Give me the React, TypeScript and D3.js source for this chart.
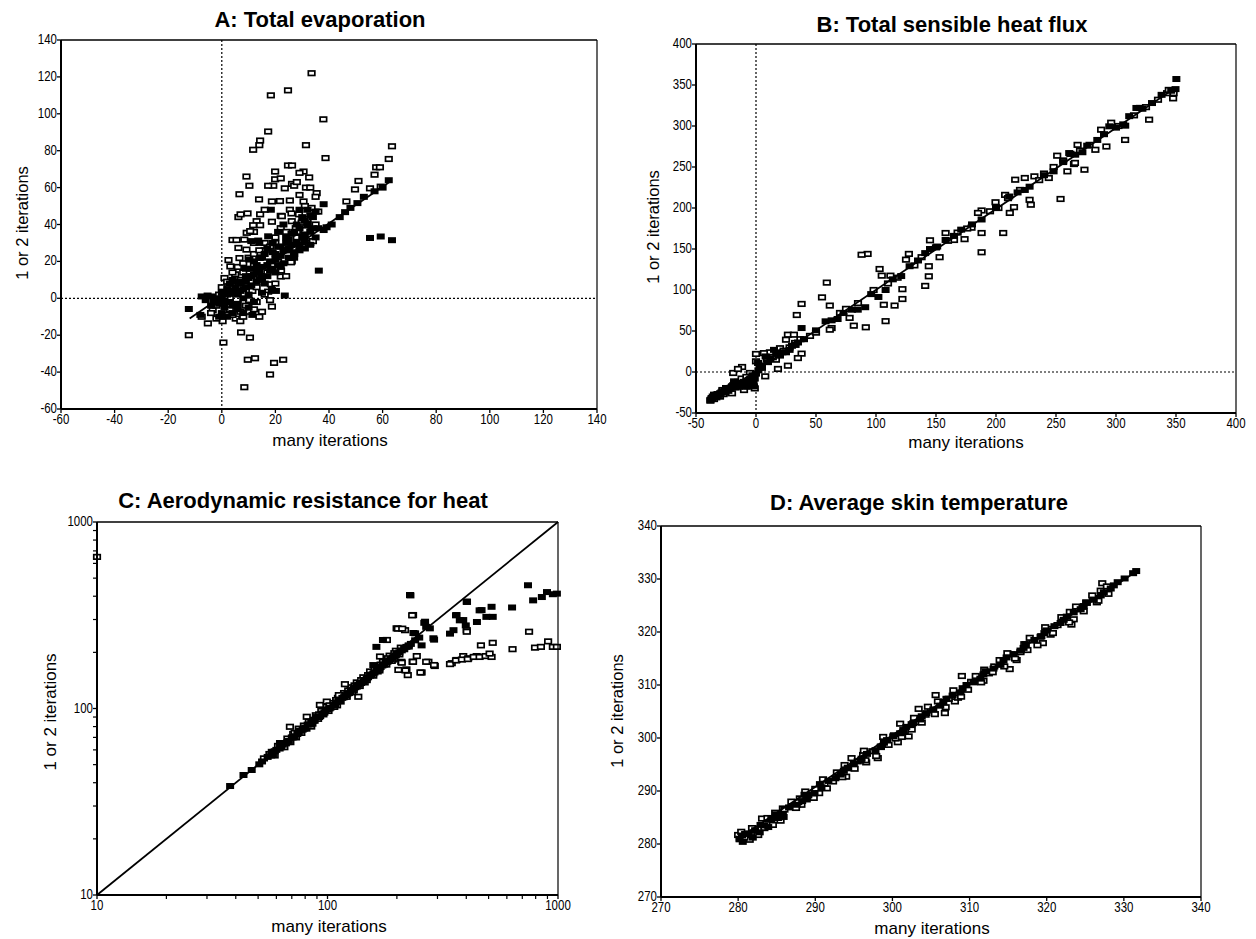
import React from 'react';
import * as d3 from 'd3';

type Pt = [number, number];

// ---------- Panel A: Total evaporation ----------
const aOpen: Pt[] = [
  [33.5,122],[18.3,110],[24.7,112.7],[37.9,97],[17.3,90.4],[14.3,85.5],[14,83],[11.7,80.5],[31.4,83],[63.5,82.4],
  [38.7,76],[62.3,75.5],[24.7,72],[26.2,72],[19.9,68.7],[30.5,68.7],[29,68],[57.6,71],[59,71],[57,67],
  [9.2,66],[32.6,65.5],[19.9,64.5],[22,65],[51,63.6],[26.2,62],[10.3,61],[19.2,61],[17.3,61],[27,61],
  [31.4,60],[33,60],[59.3,60.5],[55.3,59.6],[49.7,59],[23.5,59.6],[35.4,57],[6.6,56.4],[13.9,53.6],[18.7,52.5],
  [21.7,52.7],[25.4,53],[30.5,52.5],[46.5,52.5],[6.2,44],[9.6,46],[7,45.5],[25.4,48],[22,44.7],[28.8,45.5],
  [33.5,49],[13,41.8],[11.7,39.6],[14.3,39.6],[22,38],[9.3,35.5],[12,36],[4,31.6],[5.5,31.6],[6.2,27.3],
  [9.2,26.4],[2.5,20.7],[6.6,21.8],[3.2,17.3],[22.1,15],[22,11.8],[26.1,20],[1,11],[11.4,4],[17.3,3.6],
  [18.3,7.6],[5.5,-3.3],[10.2,-1],[18.7,-4.5],[7,-7.3],[10.2,-7.3],[15,-7.3],[-3.4,-6.4],[-7.5,-10],[-5.2,-13.6],
  [0.3,-12.4],[5.2,-11],[6.9,-12.4],[1.8,-9],[-12.3,-20],[0.6,-24],[7.2,-18.5],[10.5,-21.3],[9.7,-33.3],[12.4,-32.5],
  [19.5,-35],[22.9,-33.3],[18,-41.3],[8.4,-48.2],
  [8.4,31.8],[10.6,36.4],[14.3,45.5],[18.7,41.5],[22.4,44.5],[26.1,41.8],[29.8,41],[27.6,38],[32,40],[30.2,34.5],
  [25.8,19.5],[16,30],[20,33],[24,36],[28,33],[31,37],[35,40],[33,30],[15,12],[12,18],
  [8,14],[4,8],[2,4],[0,6],[3,0],[-1,2],[-2,-4],[13,-2],[16,2],[20,8],
  [24,12],[27,24],[30,28],[34,31],[26,46],[29,56],[35,55],[31,50],[16,26],[14,22],
  [7,10],[5,13],[9,-4],[13,6],[17,14],[21,20],[32,43],[36,47],[28,63],[16,48],[12,30],[3,-6],[1,1],
  [2,9],[4,14],[6,17],[8,19],[10,22],[12,24],[14,26],[18,28],[20,30],[24,26],[28,36],[-4,-8],[-2,-11],
  [4,-9],[8,-10],[12,-6],[14,-10],[18,-1]
];
const aFilled: Pt[] = [
  [-12.3,-5.8],[-7.5,1],[-5.3,1.5],[23.5,1.5],[36.2,15],[55.3,32.7],[59.3,33.5],[63.5,31.5],[62.3,64],[50.6,51.6],
  [46,46.7],[38,51],[39.1,38.5],[18.3,48],[13.6,31.3],[17.3,33.6],[14.3,22],[10.3,21],[18.7,4.5],[20.2,4],
  [0,0],[2,2],[4,3],[5,6],[7,8],[9,9],[10,11],[12,13],[14,14],[15,17],[17,18],[18,20],[20,21],[22,23],[23,26],
  [25,27],[26,29],[28,30],[30,33],[31,34],[33,36],[34,38],[36,38],[33,45],[32,48],[30,44],[28,40],[26,35],[24,30],
  [21,28],[19,25],[16,24],[13,15],[11,12],[8,5],[6,2],[3,-2],[1,-5],[-1,-3],[-2,-1],[0,-8],[2,-10],[4,-4],
  [10,-5],[12,-2],[15,3],[16,8],[20,14],[22,17],[8,0],[-3,-2],[4,10],[27,25],[29,28],[31,31],[35,33],[24,33],
  [32,40],[34,44],[35,47],[29,48],[22,28],[18,15],[14,10],[10,2],[6,-6],[2,5],[3,8],[44,44],[48,49],[53,55],
  [57,58],[60,60],[41,40],[38,37],[-4,-4],[-8,-9],[-1,-10],[9,16],[12,20],[14,30],[11,31],[20,24],[11.4,-9],
  [5,3],[7,4],[9,6],[11,7],[13,9],[15,11],[17,12],[19,16],[21,18],[23,19],[25,22],[27,22],[29,26],[31,27],
  [33,29],[25,32],[27,36],[29,38],[31,42],[23,40],[21,36],[19,30],[17,27],[15,22],[13,18],[11,16],[9,12],
  [7,9],[5,9],[3,4],[1,3],[-1,0],[-4,1],[-6,-1],[0,3],[1,-2],[6,-3],[8,-8],[4,-8]
];
const aLine: Pt[] = [[-12,-11],[63,63.5]];
const aTicks = [-60,-40,-20,0,20,40,60,80,100,120,140];

// ---------- Panel B: Total sensible heat flux ----------
const bOpen: Pt[] = [
  [93,144],[88,143],[59,109],[38,83],[34,69.5],[55,91],[61.5,81],[63,53.6],[61.5,51.6],[81.5,56.5],
  [91.5,54.5],[78,66],[108,62],[106.5,82],[103,125.6],[104.8,117.5],[112,117.5],[115.5,81],[122,89],[122,101],
  [127.4,144],[125,137],[141,105],[144,116.7],[144,129],[145,160.6],[153,140],[158,169.5],[165,161],[173.8,162],
  [179.6,176],[188,146],[188,169.5],[188,197],[185,194],[206,169.5],[199.6,207],[207.6,216],[211.5,194],[215,201],
  [216,234.5],[228,210],[229,204],[224,236.6],[232,238.6],[244,236.6],[253.8,211],[259.5,244.7],[265,253.6],[273.7,246.7],
  [282.8,271],[292,275],[287.6,295.5],[307.6,283],[327.6,307.7],[347.6,333.7],[342.6,340],[251,263.8],[268,277],[265.8,255],
  [296,304],[0,22],[0,13],[-11.6,6.1],[-19,-1.2],[7.7,-5.3],[18.3,3.7],[26.6,7.7],[25,39.4],[26.6,45.5],
  [31.6,45.5],[38,22.4],[34.9,17],[20,29],[11.6,24],[32.6,35.4],[16.6,15],[6.6,23],[-5,-1.2],[-15,3.7],
  [-38,-35],[-37,-32],[-32,-27],[-28,-22],[-25,-25],[-20,-18],[-15,-12],[-12,-8],[-8,-6],[-5,-10],
  [-3,-14],[-1,-20],[-10,-22],[-20,-26],[-30,-30],
  [45,44],[50,48],[70,72],[75,77],[85,84],[98,100],[110,108],[118,115],[132,130],[138,140],
  [150,152],[160,160],[168,170],[176,175],[195,196],[202,200],[210,212],[220,222],[236,234],[240,242],
  [248,250],[256,258],[262,266],[270,270],[278,277],[302,300],[315,313],[320,322],[325,323],[335,332],[344,344],[348,340],
  [-36,-30],[-33,-28],[-27,-27],[-23,-20],[-18,-14],[-14,-18],[-10,-15],[-6,-14],[-2,-6],[-35,-33],
  [3,6],[9,15],[14,18],[23,26],[28,30],[37,40]
];
const bFilled: Pt[] = [
  [350.3,357.3],[349.6,345],[346,343],[307.7,300.4],[311,312],[317,322],[294.4,299.6],[284.4,283],[276,276],[261,267],
  [248,244.7],[228,226],[211,214],[188,186],[171,173.6],[158,161],[151,153],[141,145],[128,129],[121,117],
  [108,100],[102,91.5],[91,79],[84.8,76],[80,76],[68,64.6],[58,61.8],[50,50.8],[38,53.6],[28,27],
  [15,27],[8,19],[1.7,11],[-5,-9.3],[-15,-13.4],[-25,-19.5],[-35,-27.6],[-36.6,-31.7],[-28,-23.6],[-20,-17.5],
  [-11.6,-15.4],[-6.6,-17.5],[-1.7,-17.5],[-18.3,-11.4],[20,20],[25,24],[33,33],[40,40],[63,63],[73,72],
  [96,95],[114,113],[135,136],[145,150],[165,166],[180,180],[200,201],[218,219],[224,222],[240,240],
  [256,256],[266,265],[272,268],[290,290],[300,298],[306,302],[322,321],[330,328],[338,338],[-30,-26],
  [-33,-31],[-22,-20],[-10,-12],[-3,-10],[0,-2],[5,5],[10,12],[30,32],[35,36],[-38,-34],
  [-37,-33],[-34,-30],[-31,-28],[-29,-25],[-26,-22],[-24,-21],[-21,-19],[-19,-16],[-16,-15],[-14,-13],
  [-12,-14],[-9,-15],[-7,-13],[-4,-12],[-2,-14],[-1,-8],[-26,-25],[-23,-23],[-17,-19],[-8,-18],
  [-13,-17],[2,2],[4,8],[12,16],[17,22],[22,24],[-3,-4]
];
const bLine: Pt[] = [[-38,-36],[348,345]];
const bTicks = [-50,0,50,100,150,200,250,300,350,400];

// ---------- Panel C: Aerodynamic resistance for heat ----------
const cOpen: Pt[] = [
  [10,650],[56,57],[59,56],[61,63],[65,62],[67,69],[69,66],[71,73],[73,70],[75,78],[77,74],[79,81],[81,78],
  [84,87],[86,83],[89,92],[91,88],[94,97],[96,93],[99,102],[101,97],[104,107],[107,102],[111,114],[114,109],
  [118,121],[121,116],[126,130],[130,125],[134,138],[138,132],[143,147],[148,142],[153,158],[158,150],[163,168],
  [168,160],[174,178],[180,172],[186,192],[192,183],[198,204],[205,195],[215,208],[225,215],
  [68.7,79.8],[81.3,90.3],[92.7,104.5],[99.3,108.9],[119,135],[136,115.6],[121,115.6],[169,190],[181,233],[199.5,269],
  [217,263],[235,317],[209,178],[220,162],[223,151],[203,161],[234,178],[244,191],[256,156],[274,178],
  [292,169],[346,175],[363,182],[388,191],[408,186],[444,191],[402,263],[402,374],
  [233,316],[402,258],[210,176],[218,160],[235,178],[268,178],[253,156],[290,171],[340,173],[361,181],
  [383,183],[406,184],[431,189],[457,189],[485,191],[515,189],[505,197],[463,218],[521,225],[635,208],
  [749,258],[795,212],[843,214],[906,229],[950,214],[989,214],[195,185],[202,268],[211,268],
  [53,54],[63,65],[72,74],[83,85],[92,93],[102,104],[109,111],[116,117],[123,125],[131,133],[140,142],
  [150,151],[160,162],[170,172],[183,186],[195,198],[208,212],[85,80],[110,104],[128,122],[145,138],
  [165,158],[190,180],[112,118]
];
const cFilled: Pt[] = [
  [37.8,38.4],[43.2,44],[46.9,46.8],[50.6,50.2],[57.3,58.6],[62.2,65.3],
  [55,55],[58,57],[60,60],[62,61],[64,64],[66,65],[68,67],[70,70],[72,71],[74,73],[76,76],[78,77],[80,79],
  [82,82],[85,84],[88,86],[90,90],[93,91],[95,94],[98,97],[100,99],[103,101],[106,104],[110,108],[113,111],
  [116,114],[120,118],[124,121],[128,126],[132,130],[136,134],[140,137],[145,142],[150,147],[155,152],[160,156],
  [165,162],[170,167],[176,172],[182,178],[188,184],[195,190],[200,196],[210,205],[220,214],[230,222],[240,232],[250,240],
  [158,171],[174,233],[163,214],[228,406],[240,253],[265,292],[278,269],[288,238],[352,263],[388,298],[363,317],
  [403,373],[515,351],[466,337],[632,348],[741,458],[780,380],[851,396],[896,421],[950,410],[989,413],
  [361,316],[375,297],[398,279],[340,252],[445,291],[489,310],[521,310],[457,336],[263,288],[268,274],
  [290,234],[256,218],[236,254],[229,404],
  [52,52],[57,56],[59,59],[63,62],[67,66],[71,70],[75,74],[79,78],[84,82],[87,86],[92,90],[97,95],
  [102,100],[108,105],[112,110],[118,115],[122,120],[126,124],[130,128],[134,131],[138,136],[143,140],
  [148,145],[153,150],[158,154],[163,160],[168,164],[173,170],[179,176],[185,181],[192,188],[198,193],
  [205,200],[215,210],[225,218]
];
const cLine: Pt[] = [[10,10],[1000,1000]];
const cMajor = [10,100,1000];
const cMinor = [20,30,40,50,60,70,80,90,200,300,400,500,600,700,800,900];

// ---------- Panel D: Average skin temperature ----------
const dOpen: Pt[] = [
  [327.2,329.2],[323.2,321.4],[319.5,317.9],[315.2,313],[316.1,314.7],[311.8,310.8],[309,311.7],[308.1,306.9],
  [305.6,308.1],[306.8,304.7],[303.4,305.5],[300.7,299.2],[302.1,300.3],[301,302.7],[298.1,296.2],[296.6,295.4],
  [294.7,296.2],[294,292.7],[291.5,290.5],[288.2,287.4],[285.8,286.7],[283.1,284.8],[280,281.7],[280.2,280.9],
  [281,281.5],[282.1,282.3],[283.4,283],[284,284.6],[285.3,285.2],[286,286.5],[287.2,287],[288,288.6],[289.4,289.3],
  [290,290.4],[291.2,291.4],[292.3,291.8],[293,293.4],[294.1,294.3],[295.5,295.6],[296.2,296.8],[297.4,297.5],
  [298.5,298.3],[299,299.6],[300.2,300.5],[301.6,301.3],[302.5,302.6],[303.1,303],[304.3,304.4],[305,305.2],
  [306.4,306.3],[307.3,307.4],[308.4,308.2],[309.5,309.3],[310.2,310.6],[311.1,311.4],[312.5,312.2],[313.2,313.5],
  [314,314.3],[315.4,315.8],[316.6,316.2],[317.1,317.7],[318.2,318.4],[319.3,319.2],[320.1,320.6],[321.4,321.3],
  [322.3,322.5],[323,323.8],[324.1,324.3],[325.2,325.5],[326,326.4],[327,327.8],[328,327.2],[281.5,280.8],
  [284.5,283.6],[287.5,286.8],[290.5,289.6],[293.5,292.6],[296.5,295.8],[299.5,298.7],[302.5,301.6],[305.5,304.5],
  [308.5,307.6],[311.5,310.5],[314.5,313.5],[317.5,316.6],[320.5,319.5],[323.5,322.4],[326.5,325.6],
  [280.4,282.3],[280.8,281.2],[281.8,283],[282.6,281.7],[283.8,284.9],[284.8,285.9],[285.5,284.4],[286.9,288],
  [287.8,287.9],[288.7,289.9],[289.8,288.7],[291,292.2],[292.8,293.5],[293.8,294.9],[295.1,294.2],[296.3,297.6],
  [297.9,296.6],[298.8,300.2],[300.4,299.9],[301.2,300.2],[302.8,303.8],[303.8,302.9],[304.6,305.9],[305.9,306.9],
  [306.9,305.8],[307.9,309],[308.9,307.8],[309.8,309.1],[310.8,311.7],[311.9,312.9],[313,312.4],[313.9,314.7],
  [314.9,316],[315.9,315],[317.8,318.9],[318.8,317.5],[319.8,320.9],[320.8,319.8],[321.9,322.8],[322.9,321.8],
  [323.8,324.8],[324.8,323.9],[325.9,326.9],[326.7,325.9],[327.8,328.6]
];
const dFilled: Pt[] = [
  [331.6,331.5],[331.2,331.1],[330.1,330.1],[329.2,329.4],[280.2,281],[280.5,281.6],[281.3,282],[282.2,282.6],
  [283.4,283.5],[284.3,284.7],[285.8,285.7],[286.6,286.9],[288.3,288.1],[289.1,289.2],[290.8,290.7],[291.7,291.9],
  [293.3,293.1],[294.2,294.4],[295.9,295.8],[296.7,297],[298.5,298.4],[299.3,299.6],[301,300.9],[301.8,302.1],
  [303.6,303.5],[304.4,304.7],[306.2,306.1],[307,307.4],[308.8,308.6],[309.6,310],[311.4,311.2],[312.1,312.6],
  [314,313.8],[314.8,315.2],[316.6,316.5],[317.3,317.7],[319.2,319.1],[320,320.3],[321.8,321.7],[322.6,322.9],
  [324.4,324.3],[325.1,325.6],[327,326.9],[328.3,328.2],[280.6,280.4],[282.8,282.2],[285.2,284.9],[288.9,288.4],
  [280.9,281.9],[281.9,281.2],[282.9,283.6],[283.9,283.2],[284.9,285.6],[285.9,285.1],[287.6,287.4],[288.6,289.3],
  [289.9,289.6],[290.6,291.3],[292.6,292.4],[293.7,293.8],[295,295.2],[296,296.1],[297.8,297.7],[298.9,299.1],
  [300.1,300.3],[301.4,301.5],[302.7,302.8],[303.8,304.1],[305.3,305.4],[306.6,306.8],[307.8,308],[309.1,309.4],
  [310.5,310.5],[311.8,312],[313.1,313.1],[314.4,314.6],[315.7,315.8],[317,317],[318.4,318.5],[319.7,319.8],
  [321,321.1],[322.2,322.3],[323.5,323.7],[324.8,324.9],[326.1,326.1],[327.4,327.5],[328.7,328.8]
];
const dLine: Pt[] = [[280,281],[331.5,331.3]];
const dTicks = [270,280,290,300,310,320,330,340];

const FONT = "'Liberation Sans', Arial, Helvetica, sans-serif";

type Scale = (v: number) => number;

interface PanelProps {
  left: number; top: number; width: number; height: number;
  xs: Scale; ys: Scale;
  xTicks: number[]; yTicks: number[]; xMinor?: number[]; yMinor?: number[];
  title: string; titleX: number; titleY: number;
  xLabelX: number; xLabelY: number;
  yLabelX: number; yLabelY: number; yLabelSize: number;
  zeroLines?: boolean;
  open: Pt[]; filled: Pt[]; line: Pt[];
}

function Panel(p: PanelProps) {
  const bottom = p.top + p.height;
  const right = p.left + p.width;
  const lineGen = d3.line<Pt>().x(d => p.xs(d[0])).y(d => p.ys(d[1]));
  return (
    <g>
      <text x={p.titleX} y={p.titleY} textAnchor="middle" fontFamily={FONT} fontWeight="bold" fontSize={22}>{p.title}</text>
      {p.zeroLines && (
        <g stroke="#000" strokeWidth={1.2} strokeDasharray="2,2">
          <line x1={p.xs(0)} x2={p.xs(0)} y1={p.top} y2={bottom} />
          <line x1={p.left} x2={right} y1={p.ys(0)} y2={p.ys(0)} />
        </g>
      )}
      {p.open.map((d, i) => (
        <rect key={'o' + i} x={p.xs(d[0]) - 3.25} y={p.ys(d[1]) - 2.25} width={6.5} height={4.5}
          fill="#fff" stroke="#000" strokeWidth={1.7} />
      ))}
      {p.filled.map((d, i) => (
        <rect key={'f' + i} x={p.xs(d[0]) - 4} y={p.ys(d[1]) - 3} width={8} height={6} fill="#000" />
      ))}
      <path d={lineGen(p.line) || ''} fill="none" stroke="#000" strokeWidth={1.8} />
      {/* frame */}
      <line x1={p.left} x2={right} y1={p.top} y2={p.top} stroke="#000" strokeWidth={1.6} />
      <line x1={right} x2={right} y1={p.top} y2={bottom} stroke="#000" strokeWidth={1.2} />
      <line x1={p.left} x2={p.left} y1={p.top} y2={bottom} stroke="#000" strokeWidth={2} />
      <line x1={p.left} x2={right} y1={bottom} y2={bottom} stroke="#000" strokeWidth={2} />
      {/* x ticks */}
      {p.xTicks.map(v => (
        <g key={'xt' + v}>
          <line x1={p.xs(v)} x2={p.xs(v)} y1={bottom} y2={bottom + 4} stroke="#000" strokeWidth={1.3} />
          <text transform={`translate(${p.xs(v)},${bottom + 14.5}) scale(0.82,1)`} textAnchor="middle"
            fontFamily={FONT} fontSize={14}>{v}</text>
        </g>
      ))}
      {(p.xMinor || []).map(v => (
        <line key={'xm' + v} x1={p.xs(v)} x2={p.xs(v)} y1={bottom} y2={bottom + 4} stroke="#000" strokeWidth={1.2} />
      ))}
      {p.yTicks.map(v => (
        <g key={'yt' + v}>
          <line x1={p.left - 4} x2={p.left} y1={p.ys(v)} y2={p.ys(v)} stroke="#000" strokeWidth={1.3} />
          <text transform={`translate(${p.left - 4},${p.ys(v) + 4}) scale(0.82,1)`} textAnchor="end"
            fontFamily={FONT} fontSize={14}>{v}</text>
        </g>
      ))}
      {(p.yMinor || []).map(v => (
        <line key={'ym' + v} x1={p.left - 4} x2={p.left} y1={p.ys(v)} y2={p.ys(v)} stroke="#000" strokeWidth={1.2} />
      ))}
      <text x={p.xLabelX} y={p.xLabelY} textAnchor="middle" fontFamily={FONT} fontSize={17}>many iterations</text>
      <text transform={`translate(${p.yLabelX},${p.yLabelY}) rotate(-90)`} textAnchor="middle"
        fontFamily={FONT} fontSize={p.yLabelSize}>1 or 2 iterations</text>
    </g>
  );
}

export default function App() {
  const A = { left: 61, top: 40, width: 536, height: 369 };
  const B = { left: 696, top: 44, width: 540, height: 369 };
  const C = { left: 97, top: 522, width: 461, height: 373 };
  const D = { left: 661, top: 526, width: 540, height: 371 };

  const axs = d3.scaleLinear().domain([-60, 140]).range([A.left, A.left + A.width]);
  const ays = d3.scaleLinear().domain([-60, 140]).range([A.top + A.height, A.top]);
  const bxs = d3.scaleLinear().domain([-50, 400]).range([B.left, B.left + B.width]);
  const bys = d3.scaleLinear().domain([-50, 400]).range([B.top + B.height, B.top]);
  const cxs = d3.scaleLog().domain([10, 1000]).range([C.left, C.left + C.width]);
  const cys = d3.scaleLog().domain([10, 1000]).range([C.top + C.height, C.top]);
  const dxs = d3.scaleLinear().domain([270, 340]).range([D.left, D.left + D.width]);
  const dys = d3.scaleLinear().domain([270, 340]).range([D.top + D.height, D.top]);

  return (
    <svg width={1256} height={939} style={{ position: 'absolute', left: 0, top: 0, background: '#fff' }}>
      <rect x={0} y={0} width={1256} height={939} fill="#fff" />
      <Panel {...A} xs={axs} ys={ays} xTicks={aTicks} yTicks={aTicks}
        title="A: Total evaporation" titleX={320} titleY={27}
        xLabelX={330} xLabelY={446} yLabelX={28} yLabelY={223} yLabelSize={16.5}
        zeroLines open={aOpen} filled={aFilled} line={aLine} />
      <Panel {...B} xs={bxs} ys={bys} xTicks={bTicks} yTicks={bTicks}
        title="B: Total sensible heat flux" titleX={952} titleY={32}
        xLabelX={966} xLabelY={448} yLabelX={659} yLabelY={227} yLabelSize={16.5}
        zeroLines open={bOpen} filled={bFilled} line={bLine} />
      <Panel {...C} xs={cxs} ys={cys} xTicks={cMajor} yTicks={cMajor} xMinor={cMinor} yMinor={cMinor}
        title="C: Aerodynamic resistance for heat" titleX={303} titleY={508}
        xLabelX={329} xLabelY={932} yLabelX={56} yLabelY={712} yLabelSize={17}
        open={cOpen} filled={cFilled} line={cLine} />
      <Panel {...D} xs={dxs} ys={dys} xTicks={dTicks} yTicks={dTicks}
        title="D: Average skin temperature" titleX={919} titleY={510}
        xLabelX={932} xLabelY={934} yLabelX={623} yLabelY={711} yLabelSize={16.5}
        open={dOpen} filled={dFilled} line={dLine} />
    </svg>
  );
}
